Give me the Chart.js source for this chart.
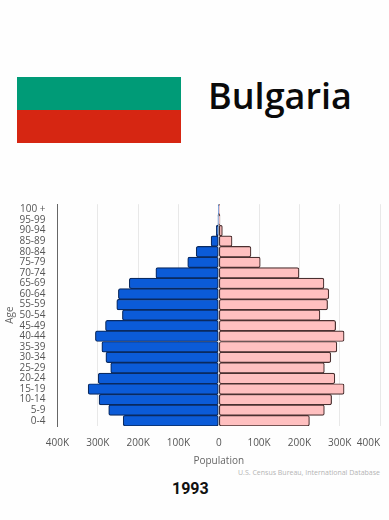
<!DOCTYPE html>
<html><head><meta charset="utf-8">
<script src="https://cdn.jsdelivr.net/npm/chart.js@4"></script>
<style>
html,body{margin:0;padding:0;background:#fefefe;width:389px;height:520px;overflow:hidden}
.a{position:absolute}
canvas{position:absolute;left:0;top:0}
</style></head><body>
<div class="a" style="left:17px;top:77px;width:164px;height:33px;background:#009b77"></div>
<div class="a" style="left:17px;top:110px;width:164px;height:32.5px;background:#d62612"></div>
<div class="a" id="country" style="left:208px;top:71px;font:600 36px 'Open Sans';color:#0a0a0a;line-height:50px">Bulgaria</div>
<div class="a" id="source" style="right:9px;top:467px;font:400 7px 'Open Sans';color:#b4b4b4;line-height:12px">U.S. Census Bureau, International Database</div>
<div class="a" id="year" style="left:172px;top:479px;font:700 16px Roboto;color:#111;line-height:20px">1993</div>
<div style="position:absolute;left:0;top:0;width:389px;height:520px"><canvas id="c" width="389" height="520"></canvas></div>
<script>
const ages=["100 +","95-99","90-94","85-89","80-84","75-79","70-74","65-69","60-64","55-59","50-54","45-49","40-44","35-39","30-34","25-29","20-24","15-19","10-14","5-9","0-4"];
const male=[-1000,-2000,-6000,-19000,-56000,-77000,-156000,-222000,-249000,-253000,-239000,-281000,-306000,-290000,-280000,-268000,-299000,-324000,-297000,-273000,-237000];
const female=[2000,3000,9000,33000,80000,103000,199000,261000,273000,270000,251000,290000,311000,293000,278000,262000,288000,311000,280000,262000,225000];
const tickFont={family:"'Open Sans'",size:10};
const lastTickRight={id:'lastTickRight',beforeDraw(ch){const it=ch.scales.x.getLabelItems();if(it.length)it[it.length-1].options.textAlign='right';}};
new Chart(document.getElementById('c'),{
 type:'bar',
 data:{labels:ages,datasets:[
  {label:'Male',data:male,backgroundColor:'#0b5bd8',borderColor:'#0a2a60',borderWidth:1.2,borderRadius:2,borderSkipped:false},
  {label:'Female',data:female,backgroundColor:'#ffc0c0',borderColor:'#4a3030',borderWidth:1.2,borderRadius:2,borderSkipped:false}
 ]},
 plugins:[lastTickRight],
 options:{
  indexAxis:'y',responsive:false,animation:false,
  categoryPercentage:1,barPercentage:1,
  layout:{padding:{left:0,right:9,top:204.2,bottom:53}},
  plugins:{legend:{display:false},tooltip:{enabled:false}},
  scales:{
   x:{stacked:true,min:-400000,max:400000,
    afterFit(s){s.height=41;s.paddingLeft=0;s.paddingRight=0;},
    ticks:{stepSize:100000,font:tickFont,color:'#555',maxRotation:0,autoSkip:false,padding:11.5,callback:v=>v===0?'0':Math.abs(v)/1000+'K'},
    grid:{color:'#e8e8e8',lineWidth:1,drawTicks:false},border:{display:false},
    title:{display:true,text:'Population',color:'#666',font:tickFont,padding:{top:0,bottom:0}}
   },
   y:{stacked:true,
    afterFit(s){s.width=57.5;},
    ticks:{font:tickFont,color:'#555',autoSkip:false,padding:12},
    grid:{display:false,drawTicks:false},border:{display:true,color:'#666',width:1},
    title:{display:true,text:'Age',color:'#666',font:tickFont}
   }
  }
 }
});
</script>
</body></html>
